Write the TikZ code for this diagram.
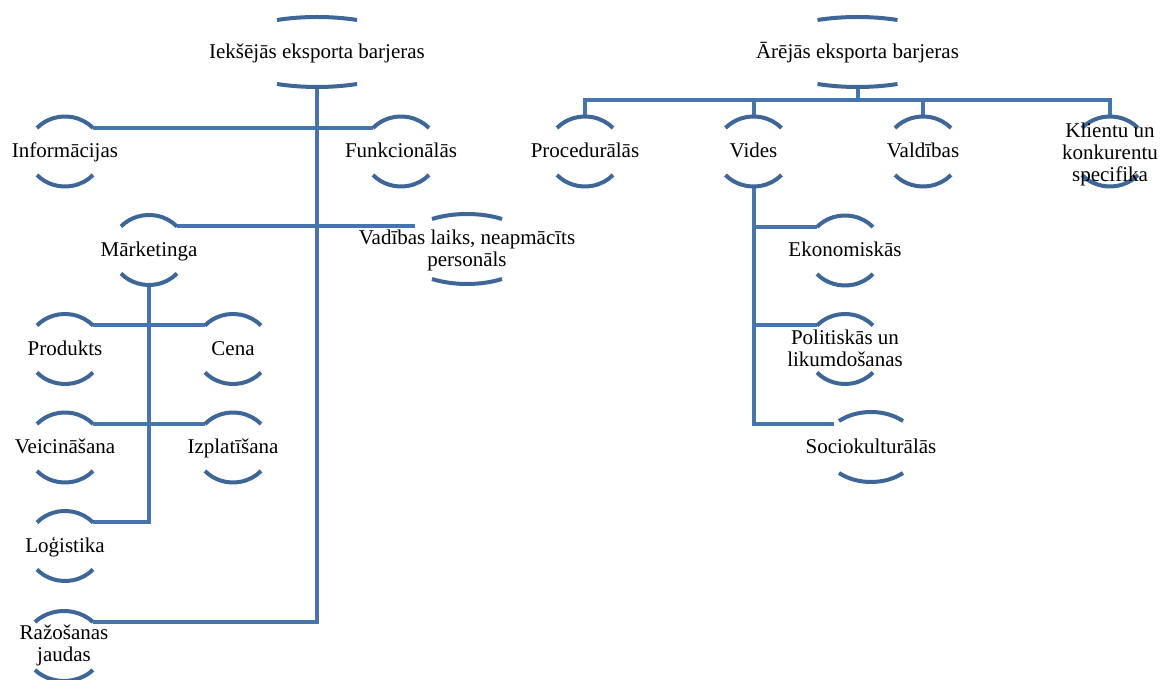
\documentclass[tikz,border=0pt]{standalone}
\usepackage{fontspec}
\setmainfont{Liberation Serif}
\usetikzlibrary{calc,backgrounds}
\definecolor{arcblue}{HTML}{3E6797}
\definecolor{linkblue}{HTML}{4674AC}
\tikzset{
  lbl/.style={inner sep=0pt, align=center, font=\fontsize{21}{22}\selectfont, text=black},
  arcline/.style={draw=arcblue, line width=4pt},
  link/.style={draw=linkblue, line width=4pt},
  one/.style={anchor=base, yshift=-6.5pt},
  % base of a multi-line label is its last line
  multi/.style={anchor=base, yshift=#1},
}
% \archnode{name}{x}{y from top}{half width of arcs}{sag of arcs}{text options}{text}
% draws the label with an arc above and an arc below it (ellipse of height 70)
\newcommand\archnode[7]{%
  \pgfmathsetmacro\arcth{acos((35-#5)/35)}%
  \pgfmathsetmacro\arcrx{#4/sin(\arcth)}%
  \pgfmathsetmacro\arccy{680-#3}%
  \coordinate (#1-c) at (#2,\arccy);
  \coordinate (#1-t) at ($(#1-c)+(0,35)$);
  \coordinate (#1-b) at ($(#1-c)+(0,-35)$);
  \draw[arcline] ($(#1-c)+({-#4},{35-#5})$) coordinate (#1-tl)
    arc[start angle={90+\arcth}, end angle={90-\arcth}, x radius=\arcrx pt, y radius=35pt] coordinate (#1-tr);
  \draw[arcline] ($(#1-c)+({-#4},{-35+#5})$) coordinate (#1-bl)
    arc[start angle={270-\arcth}, end angle={270+\arcth}, x radius=\arcrx pt, y radius=35pt] coordinate (#1-br);
  \node[lbl,#6] (#1) at (#1-c) {#7};
}
\begin{document}
\begin{tikzpicture}[x=1pt,y=1pt]
\useasboundingbox (0,0) rectangle (1160,680);

% internal barriers
\archnode{inner}{317}{52}{40}{3}{one}{Iekšējās eksporta barjeras}
\archnode{info}{65}{151.5}{28}{11.5}{one}{Informācijas}
\archnode{func}{401}{151.5}{28}{11.5}{one}{Funkcionālās}
\archnode{mark}{149}{250}{28}{11.5}{one}{Mārketinga}
\archnode{vad}{467}{249}{35}{5}{multi=-18pt}{Vadības laiks, neapmācīts\\personāls}
\archnode{prod}{65}{349}{28}{11.5}{one}{Produkts}
\archnode{cena}{233}{349}{28}{11.5}{one}{Cena}
\archnode{veic}{65}{447.5}{28}{11.5}{one}{Veicināšana}
\archnode{izpl}{233}{447.5}{28}{11.5}{one}{Izplatīšana}
\archnode{log}{65}{546}{28}{11.5}{one}{Loģistika}
\archnode{raz}{64}{646}{29}{11}{multi=-16pt}{Ražošanas\\jaudas}

% external barriers
\archnode{outer}{857.5}{52}{40}{3}{one}{Ārējās eksporta barjeras}
\archnode{proc}{585}{151.5}{28}{11.5}{one}{Procedurālās}
\archnode{vides}{753.5}{151.5}{28}{11.5}{one}{Vides}
\archnode{vald}{923}{151.5}{28}{11.5}{one}{Valdības}
\archnode{klient}{1110}{151.5}{28}{11.5}{multi=-30.5pt}{Klientu un\\konkurentu\\specifika}
\archnode{eko}{845}{250.5}{28}{11.5}{one}{Ekonomiskās}
\archnode{pol}{845}{349}{28}{11.5}{multi=-18pt}{Politiskās un\\likumdošanas}
\archnode{socio}{871}{447}{32}{9}{one}{Sociokulturālās}

\begin{scope}[on background layer]
  \fill[white] (0,0) rectangle (1160,680);
  % internal tree
  \draw[link] (inner-b) |- (raz-tr);
  \draw[link] (info-tr) -- (func-tl);
  \draw[link] (mark-tr) -- ($(vad-tl |- mark-tr)+(-17,0)$);
  \draw[link] (mark-b) |- (log-tr);
  \draw[link] (prod-tr) -- (cena-tl);
  \draw[link] (veic-tr) -- (izpl-tl);
  % external tree
  \coordinate (bus) at ($(outer-b)+(0,-13)$);
  \draw[link] (outer-b) -- (bus);
  \draw[link] (proc-t) -- (proc-t |- bus) -- (klient-t |- bus) -- (klient-t);
  \draw[link] (vides-t) -- (vides-t |- bus);
  \draw[link] (vald-t) -- (vald-t |- bus);
  \draw[link] (vides-b) |- ($(socio-tl)+(-5,-3)$);
  \draw[link] (vides-b |- eko-tl) -- (eko-tl);
  \draw[link] (vides-b |- pol-tl) -- (pol-tl);
\end{scope}
\end{tikzpicture}
\end{document}
